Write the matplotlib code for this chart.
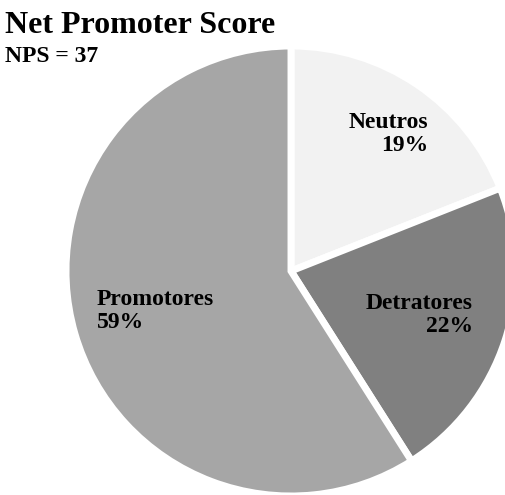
import matplotlib
matplotlib.use("Agg")
import matplotlib.pyplot as plt

# data
categories = ["Neutros", "Detratores", "Promotores"]
shares = [19, 22, 59]
nps = 37
slice_colors = ["#f2f2f2", "#808080", "#a6a6a6"]

plt.rcParams['font.family'] = ['Liberation Serif', 'DejaVu Serif']

fig = plt.figure(figsize=(5.05, 4.95), dpi=100)
ax = fig.add_axes([0, 0, 1, 1])

# work in pixel-like data coords (y up)
ax.pie(shares, colors=slice_colors, startangle=90, counterclock=False,
       center=(291, 224), radius=225,
       wedgeprops=dict(edgecolor='white', linewidth=5))
ax.set_xlim(0, 505)
ax.set_ylim(0, 495)
ax.set_aspect('equal', adjustable='datalim')
ax.axis('off')

# slice labels, laid out like the original
ax.text(428, 361, categories[0] + "\n" + str(shares[0]) + "%", ha='right', va='center',
        multialignment='right', fontsize=17, fontweight='bold', linespacing=1.1)
ax.text(473, 180, categories[1] + "\n" + str(shares[1]) + "%", ha='right', va='center',
        multialignment='right', fontsize=17, fontweight='bold', linespacing=1.1)
ax.text(97, 184, categories[2] + "\n" + str(shares[2]) + "%", ha='left', va='center',
        multialignment='left', fontsize=17, fontweight='bold', linespacing=1.1)

fig.text(5 / 505, 1 - 33 / 495, "Net Promoter Score", ha='left', va='baseline',
         fontsize=23, fontweight='bold')
fig.text(5 / 505, 1 - 62 / 495, "NPS = " + str(nps), ha='left', va='baseline',
         fontsize=17, fontweight='bold')

plt.savefig("out.png", dpi=100)
